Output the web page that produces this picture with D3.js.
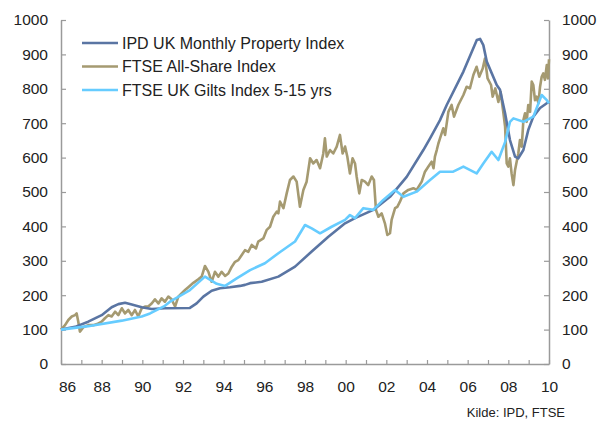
<!DOCTYPE html>
<html>
<head>
<meta charset="utf-8">
<script src="https://cdn.jsdelivr.net/npm/d3@7"></script>
<style>
  body { margin: 0; background: #fff; }
  text { font-family: "Liberation Sans", Arial, sans-serif; fill: #222; }
</style>
</head>
<body>
<svg id="chart" width="598" height="422"></svg>
<script>
// values, [axis year, index value]
const ipd = [
  [1986.00, 100], [1986.69, 108], [1987.34, 123], [1988.00, 142], [1988.49, 165],
  [1988.82, 174], [1989.15, 178], [1989.48, 173], [1989.97, 165], [1990.46, 160],
  [1991.11, 162], [1992.34, 163], [1992.67, 176], [1993.00, 196], [1993.41, 213],
  [1993.82, 220], [1994.31, 223], [1994.80, 227], [1995.05, 230], [1995.30, 235],
  [1995.87, 239], [1996.69, 254], [1997.51, 283], [1998.33, 327], [1999.15, 370],
  [1999.97, 409], [2000.46, 424], [2001.36, 448], [2002.18, 486], [2003.00, 544],
  [2003.82, 622], [2004.15, 656], [2004.64, 709], [2004.97, 753], [2005.79, 850],
  [2006.45, 942], [2006.61, 945], [2006.77, 927], [2006.94, 879], [2007.43, 811],
  [2007.59, 797], [2007.84, 729], [2008.08, 651], [2008.33, 603], [2008.49, 598],
  [2008.74, 622], [2008.98, 680], [2009.23, 719], [2009.56, 744], [2009.89, 758],
  [2010.00, 762]
];

const ftse = [
  [1986.00, 100], [1986.20, 113], [1986.36, 128], [1986.53, 138], [1986.69, 142],
  [1986.77, 147], [1986.85, 123], [1986.93, 94], [1987.10, 107], [1987.34, 113],
  [1987.59, 113], [1987.77, 116], [1988.00, 123], [1988.16, 133], [1988.33, 142],
  [1988.49, 138], [1988.66, 152], [1988.82, 142], [1988.99, 162], [1989.15, 147],
  [1989.31, 157], [1989.48, 142], [1989.64, 157], [1989.80, 138], [1989.97, 162],
  [1990.13, 167], [1990.29, 167], [1990.46, 176], [1990.62, 188], [1990.79, 176],
  [1990.95, 191], [1991.11, 181], [1991.28, 196], [1991.44, 188], [1991.61, 167],
  [1991.77, 196], [1991.94, 206], [1992.10, 215], [1992.26, 223], [1992.51, 236],
  [1992.75, 246], [1992.92, 254], [1993.08, 285], [1993.25, 268], [1993.41, 239],
  [1993.57, 268], [1993.74, 254], [1993.90, 268], [1994.07, 256], [1994.23, 263],
  [1994.40, 283], [1994.56, 297], [1994.72, 302], [1994.89, 317], [1995.05, 331],
  [1995.21, 326], [1995.38, 346], [1995.59, 336], [1995.70, 356], [1995.95, 365],
  [1996.12, 390], [1996.28, 399], [1996.44, 428], [1996.61, 443], [1996.69, 438],
  [1996.77, 472], [1996.94, 453], [1997.10, 496], [1997.26, 535], [1997.43, 545],
  [1997.59, 530], [1997.75, 457], [1997.92, 506], [1998.08, 530], [1998.25, 598],
  [1998.41, 583], [1998.57, 593], [1998.74, 569], [1998.90, 612], [1998.98, 656],
  [1999.07, 603], [1999.23, 622], [1999.39, 612], [1999.56, 632], [1999.72, 666],
  [1999.85, 612], [1999.97, 632], [2000.08, 603], [2000.21, 554], [2000.34, 598],
  [2000.46, 583], [2000.54, 545], [2000.67, 496], [2000.79, 535], [2000.95, 530],
  [2001.11, 520], [2001.28, 545], [2001.39, 535], [2001.49, 448], [2001.61, 428],
  [2001.77, 438], [2001.93, 409], [2002.05, 375], [2002.18, 380], [2002.26, 419],
  [2002.43, 453], [2002.54, 457], [2002.67, 472], [2002.84, 496], [2003.08, 506],
  [2003.33, 511], [2003.49, 506], [2003.74, 530], [2003.90, 559], [2004.07, 574],
  [2004.23, 588], [2004.32, 569], [2004.39, 603], [2004.48, 622], [2004.56, 641],
  [2004.64, 656], [2004.80, 685], [2004.89, 666], [2005.05, 733], [2005.21, 753],
  [2005.33, 719], [2005.54, 753], [2005.79, 782], [2005.95, 806], [2006.11, 801],
  [2006.28, 840], [2006.44, 864], [2006.57, 835], [2006.74, 859], [2006.85, 888],
  [2006.98, 830], [2007.15, 811], [2007.23, 777], [2007.36, 801], [2007.51, 762],
  [2007.62, 791], [2007.75, 733], [2007.84, 690], [2007.92, 583], [2008.00, 574],
  [2008.08, 598], [2008.16, 554], [2008.25, 520], [2008.33, 564], [2008.49, 612],
  [2008.57, 651], [2008.66, 632], [2008.74, 709], [2008.82, 729], [2008.90, 704],
  [2008.98, 753], [2009.07, 733], [2009.15, 821], [2009.23, 811], [2009.31, 767],
  [2009.39, 777], [2009.48, 758], [2009.56, 806], [2009.64, 835], [2009.72, 845],
  [2009.80, 826], [2009.89, 869], [2009.95, 830], [2010.00, 886]
];

const gilts = [
  [1986.00, 100], [1987.34, 110], [1988.99, 126], [1989.97, 138], [1990.38, 147],
  [1991.11, 169], [1991.36, 181], [1992.34, 215], [1993.08, 254], [1993.66, 233],
  [1994.07, 227], [1994.64, 249], [1995.30, 273], [1996.03, 293], [1996.69, 322],
  [1997.51, 356], [1998.00, 404], [1998.33, 394], [1998.74, 380], [1999.31, 399],
  [1999.97, 419], [2000.21, 433], [2000.46, 424], [2000.87, 453], [2001.36, 448],
  [2001.85, 477], [2002.43, 506], [2002.84, 486], [2003.49, 501], [2004.15, 535],
  [2004.64, 559], [2005.29, 559], [2005.79, 574], [2006.44, 554], [2006.77, 583],
  [2007.18, 617], [2007.51, 593], [2007.84, 645], [2008.08, 704], [2008.25, 714],
  [2008.74, 704], [2009.23, 719], [2009.64, 782], [2009.89, 767], [2010.00, 758]
];

const seriesNames = ["IPD UK Monthly Property Index", "FTSE All-Share Index", "FTSE UK Gilts Index 5-15 yrs"];
const seriesColors = ["#5a75a3", "#a59a71", "#66ccff"];
const yTicks = d3.range(0, 1001, 100);
const xTicks = d3.range(1986, 2011, 1);
const xLabelYears = d3.range(1986, 2011, 2);
const source = "Kilde: IPD, FTSE";

const svg = d3.select("#chart");
const x = d3.scaleLinear().domain([1986, 2010]).range([61, 549]);
const y = d3.scaleLinear().domain([0, 1000]).range([364, 20]);

const styleAxis = g => {
  g.select(".domain").attr("stroke", "#9a9a9a").attr("stroke-width", 1.5);
  g.selectAll(".tick line").attr("stroke", "#9a9a9a").attr("stroke-width", 1.2);
  g.selectAll("text").attr("font-size", 15.5).attr("fill", "#222")
    .style("font-family", '"Liberation Sans", Arial, sans-serif');
};

svg.append("g").attr("transform", "translate(61,0)")
  .call(d3.axisLeft(y).tickValues(yTicks).tickFormat(d3.format("d"))
    .tickSize(-5).tickSizeOuter(0).tickPadding(13))
  .call(styleAxis);

svg.append("g").attr("transform", "translate(549,0)")
  .call(d3.axisRight(y).tickValues(yTicks).tickFormat(d3.format("d"))
    .tickSize(-5).tickSizeOuter(0).tickPadding(13))
  .call(styleAxis);

svg.append("g").attr("transform", "translate(0,364)")
  .call(d3.axisBottom(x).tickValues(xTicks).tickSize(-4).tickSizeOuter(0).tickPadding(17)
    .tickFormat(d => xLabelYears.includes(d) ? String(d % 100).padStart(2, "0") : ""))
  .call(styleAxis)
  .call(g => g.selectAll(".tick text").filter(d => d === 1986).attr("dx", 6));

const line = d3.line().x(d => x(d[0])).y(d => y(d[1]));
const allSeries = [ipd, ftse, gilts];
const drawOrder = [1, 0, 2];

svg.append("g").selectAll("path")
  .data(drawOrder)
  .join("path")
  .attr("d", i => line(allSeries[i]))
  .attr("fill", "none")
  .attr("stroke", i => seriesColors[i])
  .attr("stroke-width", 2.6)
  .attr("stroke-linejoin", "round");

// legend
const legend = svg.append("g").selectAll("g")
  .data(seriesNames)
  .join("g")
  .attr("transform", (d, i) => `translate(82,${43 + i * 23.5})`);
legend.append("line")
  .attr("x1", 0).attr("x2", 36)
  .attr("stroke", (d, i) => seriesColors[i])
  .attr("stroke-width", 2.6);
legend.append("text")
  .attr("x", 40).attr("dy", "0.35em")
  .attr("font-size", 16)
  .text(d => d);

svg.append("text")
  .attr("x", 565).attr("y", 417)
  .attr("text-anchor", "end")
  .attr("font-size", 13)
  .text(source);
</script>
</body>
</html>
